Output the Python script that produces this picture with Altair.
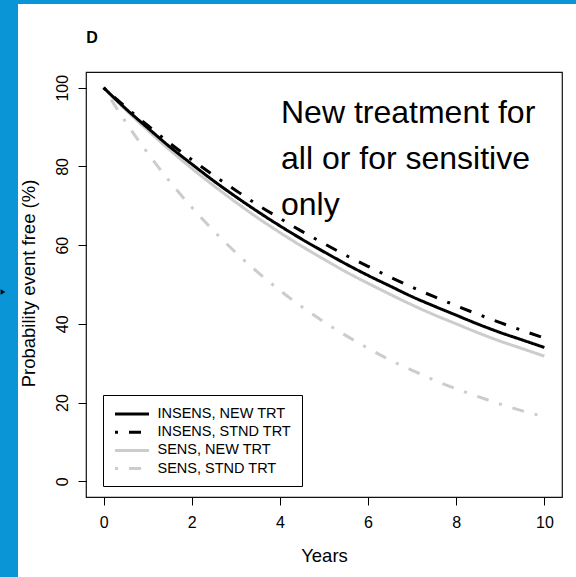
import altair as alt
import pandas as pd

years = [0, 0.5, 1, 1.5, 2, 2.5, 3, 3.5, 4, 4.5, 5, 5.5, 6, 6.5, 7, 7.5, 8, 8.5, 9, 9.5, 10]
insens_new = [100, 94.7, 89.8, 85.0, 80.6, 76.3, 72.3, 68.5, 64.9, 61.5, 58.3, 55.2, 52.3, 49.6, 46.9, 44.5, 42.2, 39.9, 37.8, 35.9, 34.0]
insens_stnd = [100, 95.1, 90.4, 85.9, 81.7, 77.7, 73.9, 70.2, 66.8, 63.5, 60.4, 57.4, 54.6, 51.9, 49.3, 46.9, 44.6, 42.4, 40.3, 38.3, 36.4]
sens_new = [100, 94.4, 89.2, 84.2, 79.5, 75.1, 70.9, 66.9, 63.2, 59.7, 56.4, 53.2, 50.3, 47.5, 44.8, 42.3, 40.0, 37.7, 35.6, 33.7, 31.8]
sens_stnd = [100, 91.3, 83.4, 76.2, 69.6, 63.6, 58.1, 53.1, 48.5, 44.3, 40.5, 37.0, 33.8, 30.8, 28.2, 25.7, 23.5, 21.5, 19.6, 17.9, 16.4]

series_names = ["INSENS, NEW TRT", "INSENS, STND TRT", "SENS, NEW TRT", "SENS, STND TRT"]
series_values = [insens_new, insens_stnd, sens_new, sens_stnd]
series_colors = ["#000000", "#000000", "#cccccc", "#cccccc"]
series_dash = [[1, 0], [3, 11, 12, 11], [1, 0], [3, 11, 12, 11]]
series_width = [3, 3, 4, 4]

x_ticks = [0, 2, 4, 6, 8, 10]
y_ticks = [0, 20, 40, 60, 80, 100]

annotation = "New treatment for\nall or for sensitive\nonly"
panel_label = "D"

rows = []
for name, vals in zip(series_names, series_values):
    for t, v in zip(years, vals):
        rows.append({"year": t, "prob": v, "series": name})
df = pd.DataFrame(rows)

W, H = 476, 425
PL, PT = 86, 72
FONT = "Liberation Sans"

xscale = alt.Scale(domain=[-0.4, 10.4], nice=False, zero=False)
yscale = alt.Scale(domain=[-4, 104], nice=False, zero=False)

enc = dict(
    x=alt.X("year:Q", scale=xscale,
            axis=alt.Axis(values=x_ticks, title="Years", labelFontSize=16,
                          labelPadding=22, labelBaseline="alphabetic",
                          titleFontSize=18.5, titleY=64, titleBaseline="alphabetic",
                          titleFontWeight="normal")),
    y=alt.Y("prob:Q", scale=yscale,
            axis=alt.Axis(values=y_ticks, title="Probability event free (%)",
                          labelFontSize=16, labelAngle=270, labelAlign="center",
                          labelBaseline="alphabetic", labelPadding=11,
                          titleFontSize=18.5, titleAngle=270, titleX=-58, titleY=211,
                          titleAlign="center", titleBaseline="middle",
                          titleFontWeight="normal")),
    color=alt.Color("series:N", scale=alt.Scale(domain=series_names, range=series_colors),
                    legend=alt.Legend(title=None)),
    strokeDash=alt.StrokeDash("series:N", scale=alt.Scale(domain=series_names, range=series_dash),
                              legend=alt.Legend(title=None)),
    strokeWidth=alt.StrokeWidth("series:N", scale=alt.Scale(domain=series_names, range=series_width),
                                legend=alt.Legend(title=None)),
)

base = alt.Chart(df)
gray = base.mark_line(interpolate="monotone").encode(**enc).transform_filter(
    alt.FieldOneOfPredicate(field="series", oneOf=series_names[2:]))
black = base.mark_line(interpolate="monotone").encode(**enc).transform_filter(
    alt.FieldOneOfPredicate(field="series", oneOf=series_names[:2]))

one = alt.Data(values=[{}])
blue_left = alt.Chart(one).mark_rect(color="#0a96d6").encode(
    x=alt.value(-PL), x2=alt.value(-PL + 18), y=alt.value(-PT), y2=alt.value(577 - PT))
blue_top = alt.Chart(one).mark_rect(color="#0a96d6").encode(
    x=alt.value(-PL + 18), x2=alt.value(576 - PL), y=alt.value(-PT), y2=alt.value(-PT + 4))
arrow = alt.Chart(one).mark_point(shape="triangle-right", filled=True, color="black", size=30, opacity=1).encode(
    x=alt.value(-PL + 3), y=alt.value(292 - PT))
dlabel = alt.Chart(one).mark_text(text=panel_label, font=FONT, fontSize=16, fontWeight="bold",
                                  align="center", baseline="middle", color="black").encode(
    x=alt.value(92 - PL), y=alt.value(38 - PT))
note = alt.Chart(one).mark_text(text=annotation, lineBreak="\n", lineHeight=46,
                                font=FONT, fontSize=32, align="left",
                                baseline="alphabetic", color="black").encode(
    x=alt.value(281 - PL), y=alt.value(123 - PT))

chart = alt.layer(blue_left, blue_top, arrow, dlabel, gray, black, note).properties(
    width=W, height=H,
    autosize=alt.AutoSizeParams(type="none"),
    padding={"left": PL, "top": PT, "right": 576 - PL - W, "bottom": 577 - PT - H},
    background="white",
).configure_view(stroke="#111111", strokeWidth=1.2, fill=None).configure_axis(
    domain=False, grid=False, ticks=True, tickSize=8, tickColor="black", tickWidth=1,
    labelFont=FONT, titleFont=FONT, labelColor="black", titleColor="black",
).configure_legend(
    orient="none", legendX=17, legendY=323, strokeColor="black", fillColor="white",
    padding=10.5, symbolType="M-2.5,0H2.5", symbolSize=185, symbolOffset=10,
    labelOffset=17, labelFont=FONT, labelFontSize=14.5, labelColor="black",
    rowPadding=3.2, cornerRadius=0, symbolFillColor="transparent",
)

chart.save("out.html", embed_options={"renderer": "svg", "actions": False})
